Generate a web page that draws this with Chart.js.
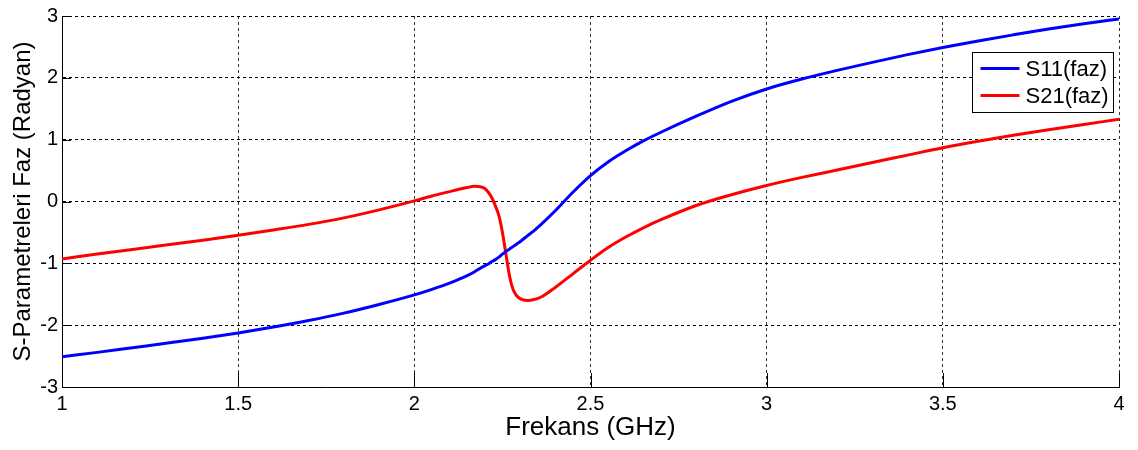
<!DOCTYPE html>
<html>
<head>
<meta charset="utf-8">
<script src="https://cdn.jsdelivr.net/npm/chart.js@4.4.1/dist/chart.umd.min.js"></script>
<style>
  html, body { margin: 0; padding: 0; background: #fff; }
  #wrap { width: 1138px; height: 450px; position: relative; }
</style>
</head>
<body>
<div id="wrap"><canvas id="c" width="1138" height="450"></canvas></div>
<script>
// Frequency samples (GHz), denser around the S21 phase jump
const freq = [
  1.0, 1.1, 1.2, 1.3, 1.4, 1.5, 1.6, 1.7, 1.8, 1.9, 2.0,
  2.05, 2.1, 2.15, 2.17, 2.19, 2.2, 2.21, 2.22, 2.23, 2.24, 2.25, 2.26, 2.27, 2.28, 2.29, 2.30,
  2.32, 2.34, 2.36, 2.4, 2.45, 2.5, 2.55, 2.6, 2.65,
  2.7, 2.8, 2.9, 3.0, 3.1, 3.2, 3.3, 3.4, 3.5, 3.6, 3.7, 3.8, 3.9, 4.0
];

// S11 phase (rad)
const s11 = [
  -2.51, -2.44, -2.365, -2.29, -2.21, -2.125, -2.03, -1.925, -1.805, -1.665, -1.51,
  -1.42, -1.32, -1.20, -1.14, -1.07, -1.04, -1.01, -0.97, -0.94, -0.90, -0.85, -0.81, -0.77, -0.73, -0.69, -0.65,
  -0.56, -0.47, -0.37, -0.15, 0.15, 0.42, 0.64, 0.82, 0.98,
  1.12, 1.38, 1.62, 1.82, 1.98, 2.12, 2.25, 2.375, 2.49, 2.595, 2.695, 2.79, 2.875, 2.95
];

// S21 phase (rad)
const s21 = [
  -0.93, -0.85, -0.775, -0.70, -0.625, -0.545, -0.46, -0.37, -0.265, -0.135, 0.01,
  0.09, 0.16, 0.225, 0.245, 0.235, 0.21, 0.15, 0.06, -0.07, -0.23, -0.50, -0.85, -1.20, -1.42, -1.52, -1.57,
  -1.60, -1.585, -1.545, -1.39, -1.17, -0.95, -0.745, -0.575, -0.425,
  -0.295, -0.065, 0.11, 0.26, 0.39, 0.51, 0.63, 0.75, 0.87, 0.975, 1.07, 1.16, 1.245, 1.33
];

const seriesNames = ['S11(faz)', 'S21(faz)'];
const seriesColors = ['#0000ff', '#ff0000'];

const xTickValues = [1, 1.5, 2, 2.5, 3, 3.5, 4];
const xTickLabels = ['1', '1.5', '2', '2.5', '3', '3.5', '4'];
const yTickValues = [-3, -2, -1, 0, 1, 2, 3];
const yTickLabels = ['-3', '-2', '-1', '0', '1', '2', '3'];

const xTitle = 'Frekans (GHz)';
const yTitle = 'S-Parametreleri Faz (Radyan)';

const FONT = "'Liberation Sans', Arial, Helvetica, sans-serif";

function toPoints(xs, ys) {
  return xs.map((x, i) => ({ x: x, y: ys[i] }));
}

function labelFor(values, labels, v) {
  const i = values.findIndex(t => Math.abs(t - v) < 1e-9);
  return i >= 0 ? labels[i] : '';
}

// Inward tick marks along the left and bottom axes
const innerTicks = {
  id: 'innerTicks',
  afterDraw(chart) {
    const { ctx, chartArea: a, scales } = chart;
    ctx.save();
    ctx.lineWidth = 1;
    ctx.strokeStyle = '#000';
    ctx.setLineDash([]);
    ctx.beginPath();
    xTickValues.forEach(v => {
      const px = Math.round(scales.x.getPixelForValue(v)) + 0.5;
      ctx.moveTo(px, a.bottom);
      ctx.lineTo(px, a.bottom - 14);
    });
    yTickValues.forEach(v => {
      const py = Math.round(scales.y.getPixelForValue(v)) + 0.5;
      ctx.moveTo(a.left, py);
      ctx.lineTo(a.left + 9, py);
    });
    ctx.stroke();
    ctx.restore();
  }
};

// Boxed legend in the upper right of the plot area
const boxLegend = {
  id: 'boxLegend',
  afterDraw(chart) {
    const { ctx, chartArea: a } = chart;
    const w = 141, h = 60;
    const x0 = Math.round(a.right - 6 - w) + 0.5;
    const y0 = Math.round(a.top + 36) + 0.5;
    ctx.save();
    ctx.fillStyle = '#fff';
    ctx.fillRect(x0, y0, w, h);
    ctx.lineWidth = 1;
    ctx.strokeStyle = '#000';
    ctx.setLineDash([]);
    ctx.strokeRect(x0, y0, w, h);
    ctx.font = '22px ' + FONT;
    ctx.textBaseline = 'middle';
    ctx.textAlign = 'left';
    chart.data.datasets.forEach((ds, i) => {
      const yy = y0 + 16 + i * 27;
      ctx.strokeStyle = ds.borderColor;
      ctx.lineWidth = 3;
      ctx.beginPath();
      ctx.moveTo(x0 + 8, yy);
      ctx.lineTo(x0 + 47, yy);
      ctx.stroke();
      ctx.fillStyle = '#000';
      ctx.fillText(ds.label, x0 + 53, yy + 1);
    });
    ctx.restore();
  }
};

new Chart(document.getElementById('c'), {
  type: 'line',
  data: {
    datasets: [
      {
        label: seriesNames[0],
        data: toPoints(freq, s11),
        borderColor: seriesColors[0],
        backgroundColor: seriesColors[0],
        borderWidth: 3,
        pointRadius: 0,
        cubicInterpolationMode: 'monotone',
        fill: false
      },
      {
        label: seriesNames[1],
        data: toPoints(freq, s21),
        borderColor: seriesColors[1],
        backgroundColor: seriesColors[1],
        borderWidth: 3,
        pointRadius: 0,
        cubicInterpolationMode: 'monotone',
        fill: false
      }
    ]
  },
  options: {
    responsive: false,
    animation: false,
    devicePixelRatio: 1,
    layout: { padding: { top: 11, right: 19, left: 0, bottom: 0 } },
    plugins: {
      legend: { display: false },
      tooltip: { enabled: false }
    },
    scales: {
      x: {
        type: 'linear',
        min: 1,
        max: 4,
        afterBuildTicks(scale) {
          scale.ticks = xTickValues.map(v => ({ value: v }));
        },
        afterFit(scale) { scale.height = 63; },
        ticks: {
          color: '#000',
          font: { family: FONT, size: 20 },
          padding: 5,
          maxRotation: 0,
          autoSkip: false,
          callback: v => labelFor(xTickValues, xTickLabels, v)
        },
        grid: {
          color: '#333',
          lineWidth: 1,
          drawTicks: false
        },
        border: { display: true, color: '#000', width: 1, dash: [3, 3] },
        title: {
          display: true,
          text: xTitle,
          color: '#000',
          font: { family: FONT, size: 26 },
          padding: { top: 0, bottom: 7 }
        }
      },
      y: {
        type: 'linear',
        min: -3,
        max: 3,
        afterBuildTicks(scale) {
          scale.ticks = yTickValues.map(v => ({ value: v }));
        },
        afterFit(scale) { scale.width = 62; },
        ticks: {
          color: '#000',
          font: { family: FONT, size: 20 },
          padding: 4,
          autoSkip: false,
          callback: v => labelFor(yTickValues, yTickLabels, v)
        },
        grid: {
          color: '#000',
          lineWidth: 1,
          drawTicks: false
        },
        border: { display: true, color: '#000', width: 1, dash: [3, 3] },
        title: {
          display: true,
          text: yTitle,
          color: '#000',
          font: { family: FONT, size: 24 },
          padding: { top: 9, bottom: 0 }
        }
      }
    }
  },
  plugins: [innerTicks, boxLegend]
});
</script>
</body>
</html>
